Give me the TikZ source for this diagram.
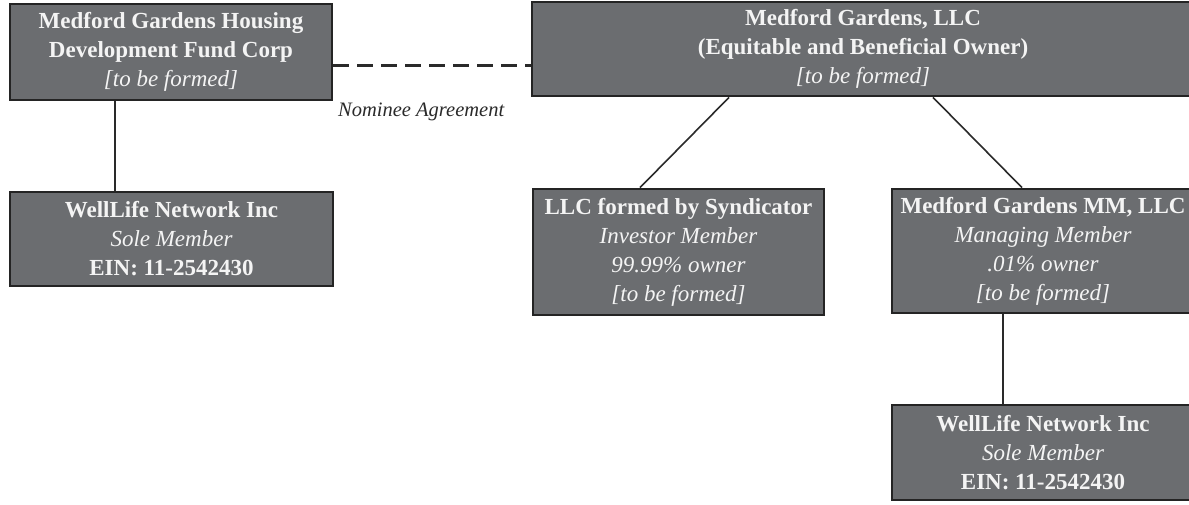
\documentclass[tikz,border=0pt]{standalone}
\usepackage{fontspec}
\setmainfont{Liberation Serif}
\definecolor{boxfill}{HTML}{6B6D70}
\definecolor{boxline}{HTML}{242424}
\definecolor{boxtext}{HTML}{F4F4F4}
\definecolor{linecol}{HTML}{2A2A2A}
\begin{document}
\begin{tikzpicture}[x=1pt,y=-1pt,
  orgbox/.style={draw=boxline, line width=2.8pt, fill=boxfill, text=boxtext,
    align=center, inner sep=0pt, font=\fontsize{23}{29}\selectfont\bfseries},
  link/.style={draw=linecol, line width=1.6pt},
  nominee/.style={draw=linecol, line width=3pt, dash pattern=on 16pt off 8pt},
  lbl/.style={text=linecol, font=\fontsize{20.5}{24}\selectfont\itshape, inner sep=0pt}]
\useasboundingbox (0,0) rectangle (1189,504);
\fill[white] (0,0) rectangle (1189,504);

\node[orgbox, minimum width=322pt, minimum height=96pt] (hdfc) at (171,52)
  {Medford Gardens Housing\\Development Fund Corp\\{\mdseries\itshape [to be formed]}};
\node[orgbox, minimum width=662pt, minimum height=94pt] (llc) at (863,49)
  {Medford Gardens, LLC\\(Equitable and Beneficial Owner)\\{\mdseries\itshape [to be formed]}};
\node[orgbox, minimum width=323pt, minimum height=94pt] (wl1) at (171.5,239)
  {WellLife Network Inc\\{\mdseries\itshape Sole Member}\\EIN: 11-2542430};
\node[orgbox, minimum width=291pt, minimum height=126pt] (syn) at (678.5,252)
  {LLC formed by Syndicator\\{\mdseries\itshape Investor Member}\\{\mdseries\itshape 99.99\% owner}\\{\mdseries\itshape [to be formed]}};
\node[orgbox, minimum width=302pt, minimum height=124pt] (mm) at (1043,251)
  {Medford Gardens MM, LLC\\{\mdseries\itshape Managing Member}\\{\mdseries\itshape .01\% owner}\\{\mdseries\itshape [to be formed]}};
\node[orgbox, minimum width=302pt, minimum height=95pt] (wl2) at (1043,452.5)
  {WellLife Network Inc\\{\mdseries\itshape Sole Member}\\EIN: 11-2542430};

\node[lbl, anchor=west] (nom) at (338,112) {Nominee Agreement};

\coordinate (dy) at (0,65);
\coordinate (c1) at (115,0);
\coordinate (c2a) at (729,0);
\coordinate (c2b) at (640,0);
\coordinate (c3a) at (933,0);
\coordinate (c3b) at (1022,0);
\coordinate (c4) at (1003,0);

\draw[nominee] (hdfc.east |- dy) -- (llc.west |- dy);
\draw[link] (hdfc.south -| c1) -- (wl1.north -| c1);
\draw[link] (llc.south -| c2a) -- (syn.north -| c2b);
\draw[link] (llc.south -| c3a) -- (mm.north -| c3b);
\draw[link] (mm.south -| c4) -- (wl2.north -| c4);
\end{tikzpicture}
\end{document}
